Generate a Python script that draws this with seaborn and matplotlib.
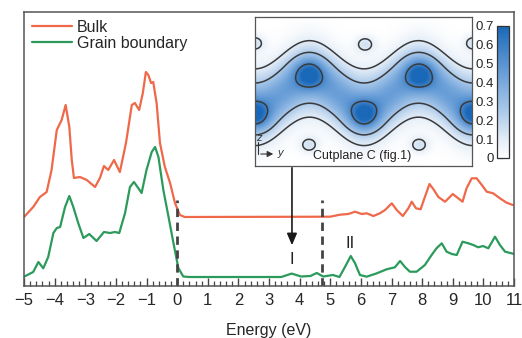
import numpy as np
import pandas as pd
import seaborn as sns
import matplotlib.pyplot as plt
from matplotlib.colors import LinearSegmentedColormap
from matplotlib.ticker import MultipleLocator, FuncFormatter

sns.set_style("white")
plt.rcParams['font.family'] = ['Liberation Sans', 'DejaVu Sans']

# density of states (arb. units, above each baseline)
energy_bulk = [-5.0, -4.70, -4.48, -4.26, -4.10, -3.93, -3.77, -3.64, -3.52, -3.44,
               -3.37, -3.17, -2.95, -2.68, -2.52, -2.39, -2.25, -2.06, -1.87, -1.67,
               -1.48, -1.38, -1.24, -1.12, -1.02, -0.94, -0.85, -0.78, -0.67, -0.56,
               -0.40, -0.23, -0.07, 0.09, 0.25, 5.0, 5.32, 5.59, 5.81, 6.03,
               6.19, 6.41, 6.62, 6.79, 7.01, 7.17, 7.37, 7.55, 7.66, 7.80,
               7.95, 8.09, 8.24, 8.37, 8.53, 8.75, 9.00, 9.18, 9.32, 9.45,
               9.62, 9.78, 9.95, 10.11, 10.32, 10.54, 10.76, 10.96]
dos_bulk = [0, 10, 20, 25, 47, 87, 97, 112, 90, 57,
            39, 40, 37, 30, 39, 51, 47, 57, 45, 74,
            112, 114, 107, 124, 145, 142, 134, 135, 114, 74,
            50, 34, 14, 2, 0, 0.3, 2.3, 3, 5.3, 3,
            3.7, 1, 3.7, 7, 13.7, 7, 1, 8.7, 15.3, 8.7,
            7.7, 20, 33, 27.7, 20, 15.3, 23, 18.7, 15.3, 28.7,
            38.7, 38.7, 32, 25.3, 23.7, 18.7, 14.3, 12]

energy_gb = [-5.0, -4.70, -4.53, -4.37, -4.21, -4.04, -3.93, -3.82, -3.66, -3.52,
             -3.39, -3.23, -3.06, -2.87, -2.63, -2.39, -2.19, -2.03, -1.89, -1.70,
             -1.54, -1.41, -1.27, -1.16, -1.00, -0.83, -0.72, -0.61, -0.45, -0.28,
             -0.12, 0.04, 0.20, 0.4, 3.4, 3.74, 4.05, 4.35, 4.56, 4.77,
             5.09, 5.30, 5.48, 5.67, 5.81, 5.97, 6.19, 6.52, 6.84, 7.11,
             7.28, 7.44, 7.60, 7.82, 8.09, 8.31, 8.47, 8.64, 8.80, 8.97,
             9.13, 9.32, 9.51, 9.67, 9.83, 9.99, 10.16, 10.38, 10.54, 10.71,
             10.92, 11.0]
dos_gb = [0.3, 5, 15, 8.7, 20, 44, 49, 50, 70, 81,
          70, 54, 39, 43, 36, 45, 44, 45, 44, 64,
          90, 95, 89, 84, 107, 125, 130, 120, 87, 60,
          34, 9, 0.5, 0, 0, 3.4, 0.5, 1, 4, 0.5,
          2, 0, 10, 21, 13.7, 2, 0.3, 3.7, 7.7, 9.7,
          16, 10, 5.3, 5.3, 12, 22, 28.7, 33.7, 25.3, 23,
          22, 35.3, 33.7, 32, 29.7, 31, 28.7, 40.3, 32, 25.3,
          23.7, 23]

offsets = {"Bulk": 69, "Grain boundary": 9}
colors = {"Bulk": "#f0684a", "Grain boundary": "#2b9a5b"}
marker_energies = [0.0, 4.73]
peak_labels = ["I", "II"]
peak_energies = [3.75, 5.64]
peak_heights = [26, 42]

# inset: charge density map (cutplane), features
band_mid, band_swing, band_period = 76, 14, 109
blob_x = [54, 164, 0, 109, 218]
blob_y = [57, 57, 98, 98, 98]
island_x = [0, 110, 218, 54, 164]
island_y = [26, 27, 26, 128, 128]

df = pd.concat([
    pd.DataFrame({"energy": energy_bulk, "dos": dos_bulk, "series": "Bulk"}),
    pd.DataFrame({"energy": energy_gb, "dos": dos_gb, "series": "Grain boundary"}),
])
df["y"] = df["dos"] + df["series"].map(offsets)

fig = plt.figure(figsize=(5.22, 3.38), dpi=100)
W, H = 522, 338
ax = fig.add_axes([24 / W, 52 / H, 490 / W, 274 / H])

sns.lineplot(data=df, x="energy", y="y", hue="series", palette=colors,
             estimator=None, sort=False, lw=1.6, ax=ax)

ax.set_xlim(-5, 11)
ax.set_ylim(0, 274)
ax.set_yticks([])
ax.set_ylabel("")
ax.xaxis.set_major_locator(MultipleLocator(1))
ax.xaxis.set_minor_locator(MultipleLocator(0.2))
ax.tick_params(axis="x", which="major", direction="in", length=6, width=1,
               color="#444", labelsize=12, pad=5, bottom=True)
ax.tick_params(axis="x", which="minor", direction="in", length=3.5, width=0.9,
               color="#444", bottom=True)
ax.set_xlabel("Energy (eV)", fontsize=11.5, labelpad=11)
for s in ax.spines.values():
    s.set_color("#555")
    s.set_linewidth(1.1)

ax.vlines(marker_energies, 0, 86, colors="#444", linestyles=(0, (3, 2)), lw=2)
for lab, e, h in zip(peak_labels, peak_energies, peak_heights):
    ax.text(e, h, lab, ha="center", va="center", fontsize=12, color="#222")
ax.annotate("", xy=(peak_energies[0], 38), xytext=(peak_energies[0], 121),
            arrowprops=dict(arrowstyle="-|>,head_length=0.7,head_width=0.3",
                            color="#1a1a1a", lw=1.2))

leg = ax.legend(loc="upper left", bbox_to_anchor=(0, 1), frameon=False,
                fontsize=11.5, handlelength=2.5, handletextpad=0.3,
                labelspacing=0.05, borderaxespad=0.3, borderpad=0.2)
for line in leg.get_lines():
    line.set_linewidth(1.6)

# inset map
iax = fig.add_axes([255 / W, (H - 166) / H, 217 / W, 149 / H])
gx = np.linspace(0, 217, 434)
gy = np.linspace(0, 149, 298)
X, Y = np.meshgrid(gx, gy)
yc = band_mid + band_swing * np.cos(2 * np.pi * X / band_period)
field = 0.45 * np.exp(-(Y - yc) ** 2 / (2 * 22.0 ** 2))
for bx, by in zip(blob_x, blob_y):
    field += 0.35 * np.exp(-((X - bx) ** 2 + (Y - by) ** 2) / (2 * 10.0 ** 2))
for px, py in zip(island_x, island_y):
    field += 0.14 * np.exp(-(X - px) ** 2 / (2 * 7.0 ** 2) - (Y - py) ** 2 / (2 * 6.0 ** 2))

cmap = LinearSegmentedColormap.from_list(
    "cut", [(0, "#ffffff"), (0.14, "#e4edf7"), (0.36, "#a9c8ea"), (0.64, "#6a9fd8"), (1, "#1a68b8")])
im = iax.imshow(field, extent=(0, 217, 149, 0), cmap=cmap, vmin=0, vmax=0.7,
                aspect="auto", interpolation="bilinear")
iax.contour(X, Y, field, levels=[0.1, 0.25, 0.57], colors="#3a3a3a", linewidths=1.1)
iax.set_xlim(0, 217)
iax.set_ylim(149, 0)
iax.set_xticks([])
iax.set_yticks([])
for s in iax.spines.values():
    s.set_color("#555")
    s.set_linewidth(0.9)
iax.text(107, 139, "Cutplane C (fig.1)", ha="center", va="center", fontsize=9, color="#222")
iax.annotate("", xy=(21, 137), xytext=(3, 137),
             arrowprops=dict(arrowstyle="-|>,head_length=0.35,head_width=0.18", color="#333", lw=0.8))
iax.plot([3, 3], [125, 137], color="#333", lw=0.8)
iax.text(3.5, 121, "z", fontsize=8, style="italic", ha="center", va="center", color="#333")
iax.text(25, 136, "y", fontsize=8, style="italic", ha="center", va="center", color="#333")

cax = fig.add_axes([497 / W, (H - 158) / H, 12 / W, 132 / H])
cb = fig.colorbar(im, cax=cax, ticks=np.arange(0, 0.71, 0.1))
cb.outline.set_edgecolor("#333")
cb.outline.set_linewidth(0.9)
cax.yaxis.set_ticks_position("left")
cax.yaxis.set_label_position("left")
cax.yaxis.set_major_formatter(FuncFormatter(lambda v, _: f"{v:g}"))
cax.yaxis.set_minor_locator(MultipleLocator(0.02))
cax.tick_params(which="major", direction="in", length=4, width=0.8, labelsize=9.5, pad=2, color="#333")
cax.tick_params(which="minor", direction="in", length=2, width=0.6, color="#333")

fig.savefig("out.png", dpi=100)
